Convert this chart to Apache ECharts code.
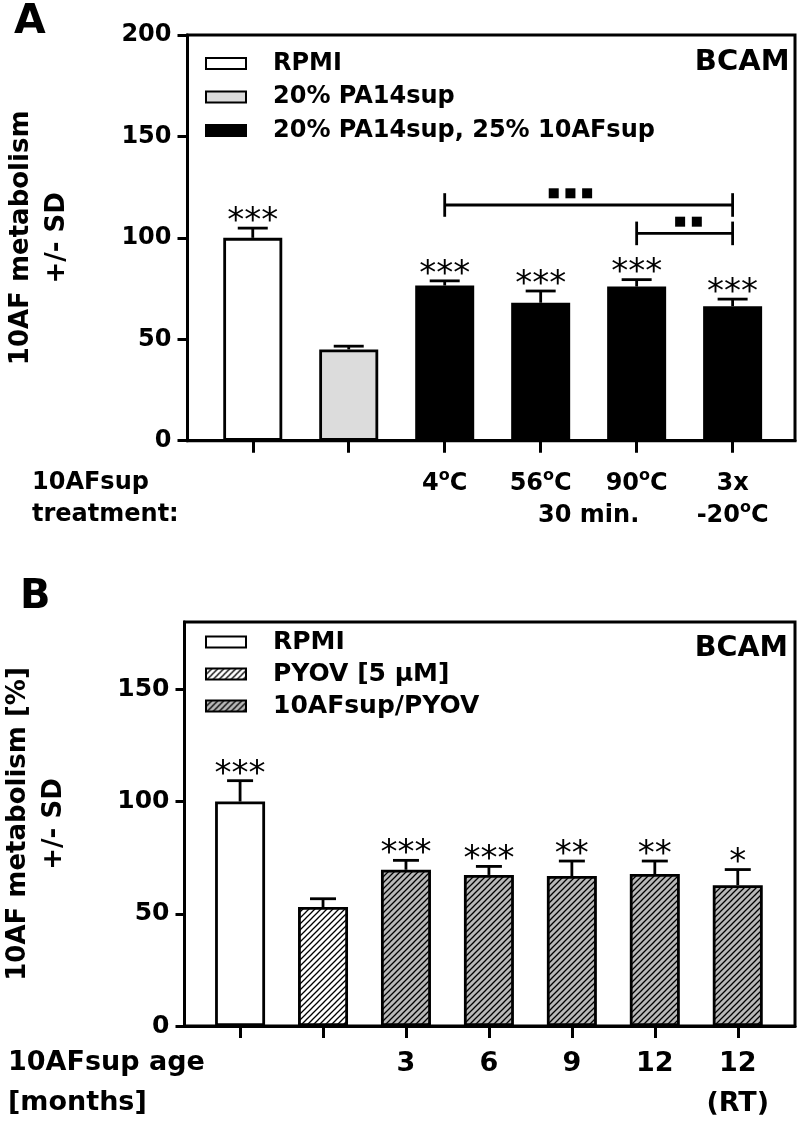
<!DOCTYPE html>
<html><head><meta charset="utf-8">
<script src="https://cdn.jsdelivr.net/npm/echarts@6/dist/echarts.min.js"></script>
<style>html,body{margin:0;padding:0;background:#fff}#c{width:800px;height:1122px}</style>
</head><body><div id="c"></div>
<script>
// ---------- Panel A data ----------
const groupsA = ['RPMI', '20% PA14sup', '20% PA14sup, 25% 10AFsup'];
const labelsA = ['', '', '4°C', '56°C', '90°C', '3x\n-20°C'];
const groupOfA = [0, 1, 2, 2, 2, 2];
const meansA = [100, 45, 76.5, 68, 76, 66.3];
const sdA = [4.8, 1.6, 2.3, 5.8, 3.4, 3.5];
const starsA = ['***', '', '***', '***', '***', '***'];
const extraLabelA = '30 min.';
const extraLabelPosA = 3.5;
const yTicksA = [0, 50, 100, 150, 200];
const bracketFromA = [2, 4];
const bracketToA = [5, 5];
const bracketLevelA = [116.2, 102.2];
const bracketMarkCountA = [3, 2];
const bracketMarkPosA = [3.31, 4.54];

// ---------- Panel B data ----------
const groupsB = ['RPMI', 'PYOV [5 μM]', '10AFsup/PYOV'];
const labelsB = ['', '', '3', '6', '9', '12', '12\n(RT)'];
const groupOfB = [0, 1, 2, 2, 2, 2, 2];
const meansB = [100, 53, 69.6, 67.3, 66.8, 67.7, 62.7];
const sdB = [9.3, 3.7, 4.2, 3.8, 6.7, 5.8, 7.0];
const starsB = ['***', '', '***', '***', '**', '**', '*'];
const yTicksB = [0, 50, 100, 150];

// ---------- helpers ----------
const FONT = 'DejaVu Sans';
function hatch(bg) {
  const s = 6;
  const c = document.createElement('canvas');
  c.width = s; c.height = s;
  const g = c.getContext('2d');
  g.fillStyle = bg; g.fillRect(0, 0, s, s);
  g.strokeStyle = '#000'; g.lineWidth = 1.3;
  g.beginPath();
  g.moveTo(-1, s + 1); g.lineTo(s + 1, -1);
  g.moveTo(-1, 1); g.lineTo(1, -1);
  g.moveTo(s - 1, s + 1); g.lineTo(s + 1, s - 1);
  g.stroke();
  return { image: c, repeat: 'repeat' };
}
function supText(t) {
  return t.split('\n').map(l => l.split('°').join('{s|o}')).join('\n');
}
function barSeries(groups, groupOf, means, fills, idx, barW) {
  return groups.map((name, g) => ({
    type: 'bar', name, xAxisIndex: idx, yAxisIndex: idx,
    barWidth: barW, barGap: '-100%', silent: true, z: 2,
    itemStyle: { color: fills[g], borderColor: '#000', borderWidth: 2.8 },
    data: means.map((m, i) => groupOf[i] === g ? [i, m] : null).filter(Boolean)
  }));
}
function errSeries(means, sds, stars, idx, capW, starSize) {
  return {
    type: 'custom', xAxisIndex: idx, yAxisIndex: idx, z: 5, silent: true,
    data: means.map((m, i) => [i, m, sds[i]]),
    renderItem(params, api) {
      const x = api.value(0), m = api.value(1), s = api.value(2);
      const a = api.coord([x, m]), b = api.coord([x, m + s]);
      const st = stars[params.dataIndex];
      const ch = [
        { type: 'line', shape: { x1: a[0], y1: a[1], x2: b[0], y2: b[1] }, style: { stroke: '#000', lineWidth: 2.8 } },
        { type: 'line', shape: { x1: b[0] - capW / 2, y1: b[1], x2: b[0] + capW / 2, y2: b[1] }, style: { stroke: '#000', lineWidth: 2.8 } }
      ];
      if (st) ch.push({ type: 'text', style: { text: st, x: b[0], y: b[1] - 6, fontFamily: FONT, fontSize: starSize, fill: '#000', align: 'center', verticalAlign: 'middle' } });
      return { type: 'group', children: ch };
    }
  };
}
const bracketSeries = {
  type: 'custom', xAxisIndex: 0, yAxisIndex: 0, z: 5, silent: true,
  data: bracketFromA.map((f, i) => [f, bracketLevelA[i], bracketToA[i], bracketMarkPosA[i], bracketMarkCountA[i]]),
  renderItem(params, api) {
    const lvl = api.value(1);
    const p1 = api.coord([api.value(0), lvl]);
    const p2 = api.coord([api.value(2), lvl]);
    const pm = api.coord([api.value(3), lvl]);
    const n = api.value(4);
    const h = 11.8, sq = 10, pitch = 16.7, up = 11.7;
    const st = { stroke: '#000', lineWidth: 2.8 };
    const ch = [
      { type: 'line', shape: { x1: p1[0], y1: p1[1], x2: p2[0], y2: p2[1] }, style: st },
      { type: 'line', shape: { x1: p1[0], y1: p1[1] - h, x2: p1[0], y2: p1[1] + h }, style: st },
      { type: 'line', shape: { x1: p2[0], y1: p2[1] - h, x2: p2[0], y2: p2[1] + h }, style: st }
    ];
    for (let k = 0; k < n; k++) {
      const cx = pm[0] + (k - (n - 1) / 2) * pitch;
      ch.push({ type: 'rect', shape: { x: cx - sq / 2, y: pm[1] - up - sq / 2, width: sq, height: sq }, style: { fill: '#000' } });
    }
    return { type: 'group', children: ch };
  }
};

const fillsA = ['#ffffff', '#dcdcdc', '#000000'];
const fillsB = ['#ffffff', hatch('#ffffff'), hatch('#b8b8b8')];

const axisLineStyle = { color: '#000', width: 3 };
const boldText = (size, extra) => Object.assign({ fontFamily: FONT, fontWeight: 'bold', fontSize: size, color: '#000' }, extra || {});
const supStyle = { fontFamily: FONT, fontWeight: 'bold', fontSize: 16, lineHeight: 21, verticalAlign: 'top', color: '#000' };

const option = {
  animation: false,
  backgroundColor: '#fff',
  textStyle: { fontFamily: FONT },
  title: [
    { text: 'A', left: 14, top: 1.5, padding: 0, textStyle: boldText(41, { lineHeight: 41 }) },
    { text: 'BCAM', right: 10.5, top: 48.3, padding: 0, textStyle: boldText(29, { lineHeight: 29 }) },
    { text: '10AFsup\ntreatment:', left: 32, top: 467, padding: 0, textStyle: boldText(24, { lineHeight: 32 }) },
    { text: 'B', left: 20, top: 577.5, padding: 0, textStyle: boldText(40, { lineHeight: 40 }) },
    { text: 'BCAM', right: 12, top: 634, padding: 0, textStyle: boldText(28.6, { lineHeight: 29 }) },
    { text: '10AFsup age\n[months]', left: 8, top: 1043, padding: 0, textStyle: boldText(27, { lineHeight: 40 }) }
  ],
  legend: [
    { data: groupsA, orient: 'vertical', left: 205, top: 51.5, padding: 0, itemWidth: 40, itemHeight: 11, itemGap: 9.5,
      selectedMode: false, icon: 'rect', textStyle: boldText(24, { lineHeight: 24, padding: [0, 0, 0, 22] }) },
    { data: groupsB, orient: 'vertical', left: 205, top: 629.5, padding: 0, itemWidth: 40, itemHeight: 11, itemGap: 7,
      selectedMode: false, icon: 'rect', textStyle: boldText(25, { lineHeight: 24, padding: [0, 0, 0, 22] }) }
  ],
  grid: [
    { left: 187.5, right: 5, top: 35, height: 405.7, show: true, borderColor: '#000', borderWidth: 3, outerBoundsMode: 'none' },
    { left: 184.5, right: 5, top: 622, height: 404, show: true, borderColor: '#000', borderWidth: 3, outerBoundsMode: 'none' }
  ],
  xAxis: [
    { gridIndex: 0, type: 'value', min: -0.68, max: 5.65, splitLine: { show: false },
      axisLine: { onZero: false, lineStyle: axisLineStyle },
      axisTick: { length: 12, lineStyle: axisLineStyle, customValues: labelsA.map((_, i) => i) },
      axisLabel: { customValues: labelsA.map((_, i) => i).concat([extraLabelPosA]), margin: 27,
        fontFamily: FONT, fontWeight: 'bold', fontSize: 24, lineHeight: 32, color: '#000',
        formatter: v => v === extraLabelPosA ? '\n' + extraLabelA : supText(labelsA[Math.round(v)] || ''),
        rich: { s: supStyle } } },
    { gridIndex: 1, type: 'value', min: -0.67, max: 6.69, splitLine: { show: false },
      axisLine: { onZero: false, lineStyle: axisLineStyle },
      axisTick: { length: 12, lineStyle: axisLineStyle, customValues: labelsB.map((_, i) => i) },
      axisLabel: { customValues: labelsB.map((_, i) => i), margin: 17.5,
        fontFamily: FONT, fontWeight: 'bold', fontSize: 27, lineHeight: 40, color: '#000',
        formatter: v => labelsB[Math.round(v)] || '' } }
  ],
  yAxis: [
    { gridIndex: 0, type: 'value', min: 0, max: 200, interval: 50, splitLine: { show: false },
      axisLine: { show: true, onZero: false, lineStyle: axisLineStyle },
      axisTick: { show: true, length: 10, lineStyle: axisLineStyle, customValues: yTicksA },
      axisLabel: { customValues: yTicksA, margin: 16, fontFamily: FONT, fontWeight: 'bold', fontSize: 24, color: '#000' },
      name: '10AF metabolism\n+/- SD', nameLocation: 'middle', nameGap: 112,
      nameTextStyle: boldText(26, { lineHeight: 36 }) },
    { gridIndex: 1, type: 'value', min: 0, max: 180, interval: 50, splitLine: { show: false },
      axisLine: { show: true, onZero: false, lineStyle: axisLineStyle },
      axisTick: { show: true, length: 9, lineStyle: axisLineStyle, customValues: yTicksB },
      axisLabel: { customValues: yTicksB, margin: 15, fontFamily: FONT, fontWeight: 'bold', fontSize: 25, color: '#000' },
      name: '10AF metabolism [%]\n+/- SD', nameLocation: 'middle', nameGap: 112,
      nameTextStyle: boldText(26, { lineHeight: 36 }) }
  ],
  series: [].concat(
    barSeries(groupsA, groupOfA, meansA, fillsA, 0, 59),
    [errSeries(meansA, sdA, starsA, 0, 30, 34), bracketSeries],
    barSeries(groupsB, groupOfB, meansB, fillsB, 1, 50),
    [errSeries(meansB, sdB, starsB, 1, 26, 34)]
  )
};
const chart = echarts.init(document.getElementById('c'), null, { renderer: 'canvas' });
chart.setOption(option);
</script>
</body></html>
